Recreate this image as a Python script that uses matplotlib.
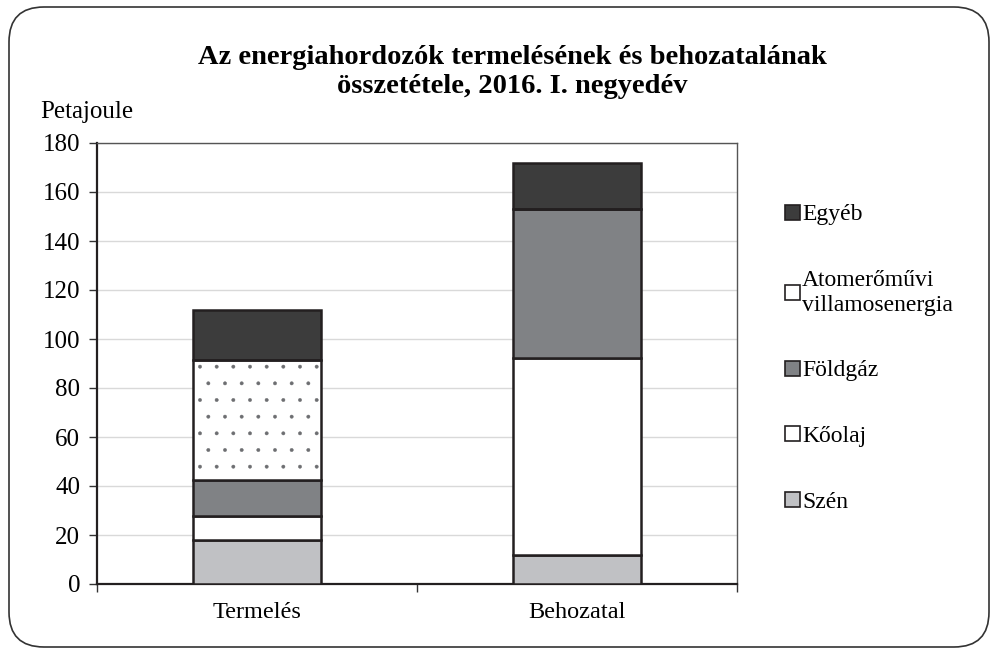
import numpy as np
import matplotlib.pyplot as plt
from matplotlib.patches import FancyBboxPatch

plt.rcParams['font.family'] = ['Liberation Serif', 'DejaVu Serif']
plt.rcParams['hatch.linewidth'] = 0.3

categories = ['Termelés', 'Behozatal']
szen = [18.0, 11.8]
koolaj = [9.8, 80.3]
foldgaz = [14.6, 60.8]
atom = [49.0, 0.0]
egyeb = [20.4, 18.8]

series = [
    ('Szén', szen, '#c0c1c4', None),
    ('Kőolaj', koolaj, '#ffffff', None),
    ('Földgáz', foldgaz, '#808285', None),
    ('Atomerőművi\nvillamosenergia', atom, '#ffffff', '.'),
    ('Egyéb', egyeb, '#3c3c3c', None),
]

fig = plt.figure(figsize=(9.98, 6.53), dpi=100)
ax = fig.add_axes([97 / 998, 1 - 584 / 653, 640 / 998, 441 / 653])

# rounded frame round the chart
frame = FancyBboxPatch((9 / 998, 6 / 653), 980 / 998, 640 / 653,
                       boxstyle='round,pad=0,rounding_size=0.035',
                       transform=fig.transFigure, facecolor='none',
                       edgecolor='#333333', linewidth=1.2, mutation_aspect=998 / 653)
fig.patches.append(frame)

x = np.arange(len(categories))
bottom = np.zeros(len(categories))
handles = []
for name, vals, color, hatch in series:
    vals = np.array(vals)
    if hatch:
        # grey dots first, outline drawn on top
        ax.bar(x, vals, width=0.4, bottom=bottom, color=color, edgecolor='#6d6e71',
               linewidth=0, hatch=hatch, zorder=3)
        bars = ax.bar(x, vals, width=0.4, bottom=bottom, facecolor='none',
                      edgecolor='#231f20', linewidth=1.8, label=name, zorder=4)
    else:
        bars = ax.bar(x, vals, width=0.4, bottom=bottom, color=color, edgecolor='#231f20',
                      linewidth=1.8, label=name, zorder=3)
    handles.append(bars)
    bottom += vals

ax.set_xlim(-0.5, 1.5)
ax.set_ylim(0, 180)
ax.set_yticks(range(0, 181, 20))
ax.yaxis.grid(True, color='#d9d9d9', linewidth=1, zorder=0)
ax.set_xticks([-0.5, 0.5, 1.5])
ax.set_xticklabels([])
ax.set_xticks(x, minor=True)
ax.set_xticklabels(categories, minor=True, fontsize=17.5)
ax.tick_params(axis='x', which='minor', length=0, pad=13)
ax.tick_params(axis='x', which='major', length=6, width=1, color='#333333')
ax.tick_params(axis='y', length=6, width=1, color='#333333', labelsize=18, pad=6)

for side in ['top', 'right']:
    ax.spines[side].set_color('#555555')
    ax.spines[side].set_linewidth(1)
for side in ['left', 'bottom']:
    ax.spines[side].set_color('#231f20')
    ax.spines[side].set_linewidth(1.6)

fig.text(40 / 998, 1 - 112 / 653, 'Petajoule', fontsize=18, va='center', ha='left')
fig.text(512 / 998, 1 - 72 / 653,
         'Az energiahordozók termelésének és behozatalának\nösszetétele, 2016. I. negyedév',
         fontsize=20.5, fontweight='bold', ha='center', va='center', linespacing=1.2)

leg = fig.legend(handles[::-1], [s[0] for s in series][::-1],
                 loc='upper left', bbox_to_anchor=(776 / 998, 1 - 195 / 653),
                 frameon=False, fontsize=17, handlelength=0.6, handleheight=0.6,
                 handletextpad=0.1, labelspacing=1.9, borderaxespad=0)
for h in leg.legend_handles:
    h.set_linewidth(1.2)

fig.savefig('out.png', dpi=100)
